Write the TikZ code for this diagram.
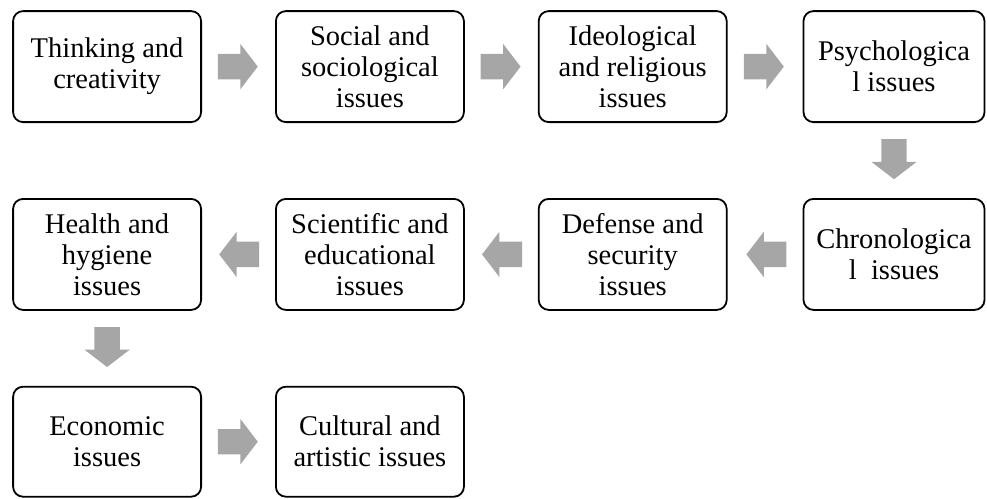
\documentclass[tikz,border=0pt]{standalone}
\usepackage{fontspec}
\setmainfont{Liberation Serif}
\usetikzlibrary{matrix,calc,shapes.arrows}
\definecolor{arrowgray}{RGB}{166,166,166}

\begin{document}
\begin{tikzpicture}[x=1pt, y=-1pt,
    issue/.style={draw, line width=1.8pt, rounded corners=10pt, align=center,
        minimum width=188pt, minimum height=111pt, inner sep=0pt, outer sep=0pt,
        font=\fontsize{28.5}{31}\selectfont},
    flow/.style={single arrow, fill=arrowgray, draw=none, anchor=tail,
        inner xsep=0pt, inner ysep=12.5pt, minimum height=40pt,
        single arrow head extend=10pt, single arrow tip angle=105}
]
\useasboundingbox (0,0) rectangle (987,498);

\matrix (m) [
    anchor=north west, at={(12,10)}, inner sep=0pt,
    column sep=73pt, row sep=75pt,
    nodes={issue},
    column 4/.style={nodes={minimum width=181pt}},
    row 3/.style={nodes={minimum height=110pt}}
]
{
\node (think) {Thinking and\\creativity}; &
\node (social) {Social and\\sociological\\issues}; &
\node (ideo) {Ideological\\and religious\\issues}; &[2pt]
\node (psych) {Psychologica\\l issues}; \\
\node (health) {Health and\\hygiene\\issues}; &
\node (science) {Scientific and\\educational\\issues}; &
\node (defense) {Defense and\\security\\issues}; &[2pt]
\node (chrono) {Chronologica\\l~~issues}; \\
\node (econ) {Economic\\issues}; &
\node (culture) {Cultural and\\artistic issues}; & & \\
};

% first row, left to right
\node[flow] (f1) at ($(think.east)!0.22!(social.west)$) {};
\node[flow] (f2) at ($(social.east)!0.22!(ideo.west)$) {};
\node[flow] (f3) at ($(ideo.east)!0.22!(psych.west)$) {};
% down to the second row
\node[flow, rotate=-90] (f4) at ($(psych.south)!0.22!(chrono.north)$) {};
% second row, right to left
\node[flow, rotate=180] (f5) at ($(chrono.west)!0.22!(defense.east)$) {};
\node[flow, rotate=180] (f6) at ($(defense.west)!0.22!(science.east)$) {};
\node[flow, rotate=180] (f7) at ($(science.west)!0.22!(health.east)$) {};
% down to the third row
\node[flow, rotate=-90] (f8) at ($(health.south)!0.22!(econ.north)$) {};
\node[flow] (f9) at ($(econ.east)!0.22!(culture.west)$) {};
\end{tikzpicture}
\end{document}
